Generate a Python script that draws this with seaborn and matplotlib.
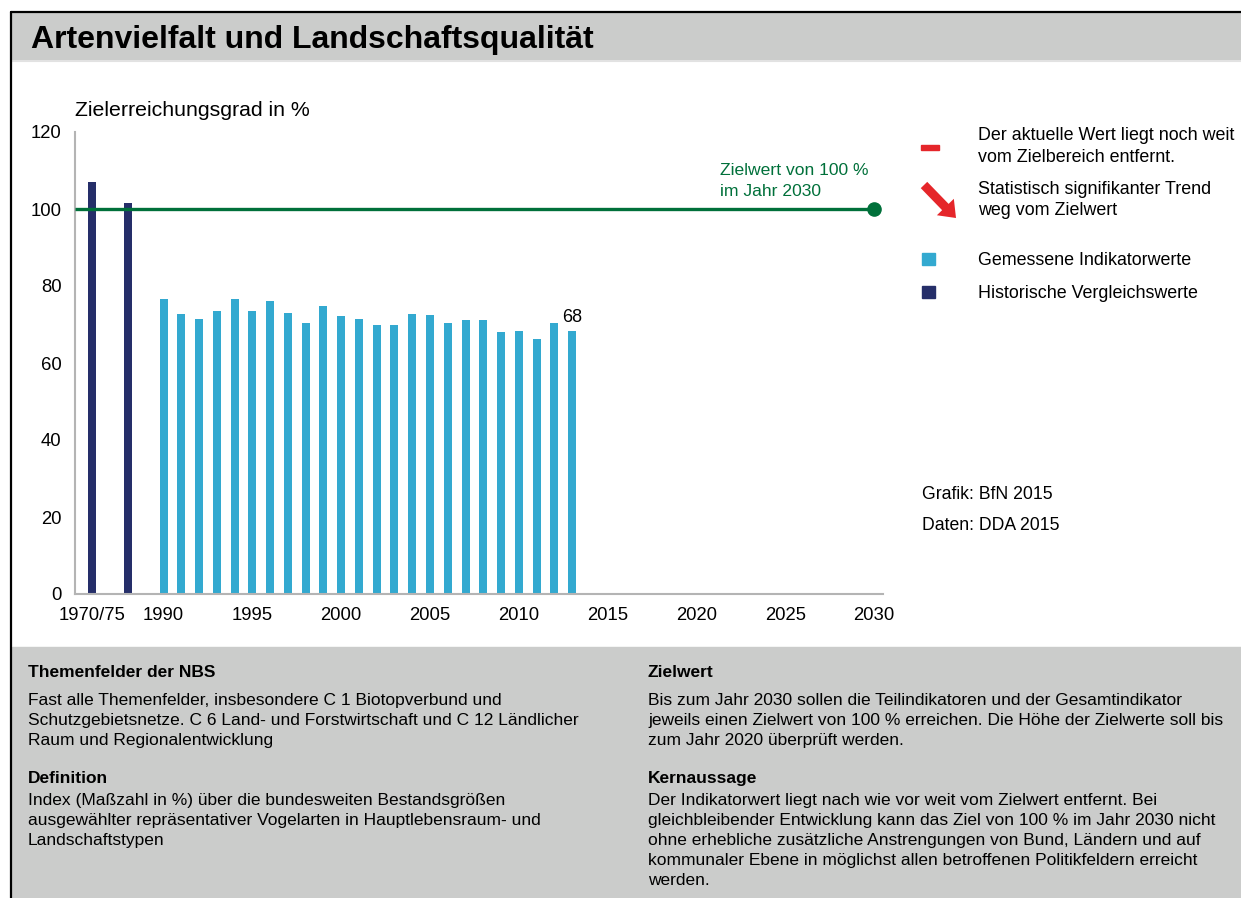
import numpy as np
import pandas as pd
import matplotlib
matplotlib.use("Agg")
import matplotlib.pyplot as plt
import seaborn as sns
from matplotlib.patches import Rectangle
from matplotlib.lines import Line2D

# -----------------------------------
# Data
# -----------------------------------

hist_labels = ["1970", "1975"]
hist_values = [107.0, 101.5]

years = list(range(1990, 2014))
values = [76.6, 72.6, 71.5, 73.4, 76.7, 73.4, 76.1, 73.1, 70.4, 74.9,
          72.1, 71.3, 69.9, 70.0, 72.7, 72.4, 70.4, 71.1, 71.1, 68.0,
          68.4, 66.2, 70.4, 68.4]

target_value = 100
target_year = 2030

year_ticks = [1990, 1995, 2000, 2005, 2010, 2015, 2020, 2025, 2030]
y_ticks = [0, 20, 40, 60, 80, 100, 120]

# slots on the time axis used for the two historical bars
hist_slots = [1986, 1988]

LIGHT = "#33a9d0"
DARK = "#252e69"
GREEN = "#00703a"
RED = "#e5262a"
GREY_BG = "#cbcccb"
AXIS = "#b4b4b4"

# -----------------------------------
# Figure setup
# -----------------------------------

sns.set_style("white")
plt.rcParams["font.family"] = ["Liberation Sans", "DejaVu Sans"]
plt.rcParams["text.color"] = "black"
plt.rcParams["xtick.color"] = "black"
plt.rcParams["ytick.color"] = "black"

W, H = 1241, 898
fig = plt.figure(figsize=(W / 100, H / 100), dpi=100)


def fx(x):
    return x / W


def fy(y):
    return 1 - y / H


# header banner, bottom panel and frame lines
fig.add_artist(Rectangle((fx(12), fy(60)), 1 - fx(12), (60 - 13) / H,
                         transform=fig.transFigure, color=GREY_BG, zorder=0))
fig.add_artist(Line2D([fx(12), 1], [fy(60.5), fy(60.5)], color="#e2e2e2",
                      lw=1.5, transform=fig.transFigure))
fig.add_artist(Rectangle((fx(12), 0), 1 - fx(12), (898 - 647) / H,
                         transform=fig.transFigure, color=GREY_BG, zorder=0))
fig.add_artist(Line2D([fx(11), 1], [fy(12), fy(12)], color="black",
                      lw=1.6, transform=fig.transFigure))
fig.add_artist(Line2D([fx(11), fx(11)], [fy(12), 0], color="black",
                      lw=1.6, transform=fig.transFigure))

fig.text(fx(31), fy(48), "Artenvielfalt und Landschaftsqualität",
         fontsize=23, fontweight="bold", va="baseline", ha="left")

# -----------------------------------
# Bar chart
# -----------------------------------

ax = fig.add_axes([fx(74.7), fy(594), (883 - 74.7) / W, (594 - 132) / H])
ax.set_facecolor("none")

df = pd.DataFrame({
    "pos": hist_slots + years,
    "value": hist_values + values,
    "kind": ["hist"] * len(hist_values) + ["measured"] * len(values),
})

sns.barplot(data=df, x="pos", y="value", hue="kind", native_scale=True,
            dodge=False, width=0.45, errorbar=None, legend=False,
            palette={"hist": DARK, "measured": LIGHT}, saturation=1,
            ax=ax, linewidth=0, zorder=2)

ax.plot([1985, target_year], [target_value, target_value], color=GREEN,
        lw=2.4, zorder=5, solid_capstyle="butt")
ax.plot([target_year], [target_value], "o", ms=9.5, color=GREEN, zorder=6,
        clip_on=False)

ax.text(years[-1], values[-1] + 1.2, f"{round(values[-1])}", ha="center",
        va="bottom", fontsize=13)

ax.set_xlim(1985, 2030.5)
ax.set_ylim(0, 120)
ax.set_xlabel("")
ax.set_ylabel("")

ax.set_yticks(y_ticks)
ax.set_xticks([1986.0] + year_ticks)
ax.set_xticklabels(["/".join([hist_labels[0], hist_labels[1][2:]])] +
                   [str(y) for y in year_ticks])
ax.set_xticks(np.arange(1985.5, 2031, 1), minor=True)

ax.tick_params(axis="y", length=6.5, width=1.2, color=AXIS, labelsize=13.3,
               pad=3, labelcolor="black")
ax.tick_params(axis="x", which="major", length=0, pad=9, labelsize=13.3,
               labelcolor="black")
ax.tick_params(axis="x", which="minor", length=6, width=1.2, color=AXIS)

for side in ["top", "right"]:
    ax.spines[side].set_visible(False)
for side in ["left", "bottom"]:
    ax.spines[side].set_color(AXIS)
    ax.spines[side].set_linewidth(1.5)

fig.text(fx(75), fy(116), "Zielerreichungsgrad in %", fontsize=15.3,
         va="baseline")

fig.text(fx(720), fy(175), "Zielwert von 100 %", color=GREEN, fontsize=12.6,
         va="baseline")
fig.text(fx(720), fy(196), "im Jahr 2030", color=GREEN, fontsize=12.6,
         va="baseline")

# -----------------------------------
# Legend (right side)
# -----------------------------------

fig.add_artist(Rectangle((fx(921), fy(149.5)), (939 - 921) / W, 5 / H,
                         transform=fig.transFigure, color=RED))
ax.annotate("", xy=(fx(956), fy(218)), xytext=(fx(924), fy(185)),
            xycoords="figure fraction", textcoords="figure fraction",
            arrowprops=dict(facecolor=RED, edgecolor="none", width=6.5,
                            headwidth=17, headlength=11))
fig.add_artist(Rectangle((fx(922), fy(265)), 13 / W, 12 / H,
                         transform=fig.transFigure, color=LIGHT))
fig.add_artist(Rectangle((fx(922), fy(298)), 13 / W, 12 / H,
                         transform=fig.transFigure, color=DARK))

legend_lines = [
    (140, "Der aktuelle Wert liegt noch weit"),
    (162, "vom Zielbereich entfernt."),
    (194, "Statistisch signifikanter Trend"),
    (215, "weg vom Zielwert"),
    (265, "Gemessene Indikatorwerte"),
    (298, "Historische Vergleichswerte"),
]
for yy, txt in legend_lines:
    fig.text(fx(978), fy(yy), txt, fontsize=12.9, va="baseline")

fig.text(fx(922), fy(499), "Grafik: BfN 2015", fontsize=12.7, va="baseline")
fig.text(fx(922), fy(530), "Daten: DDA 2015", fontsize=12.7, va="baseline")

# -----------------------------------
# Bottom text panel
# -----------------------------------

left_block = [
    (677, "Themenfelder der NBS", True),
    (705, "Fast alle Themenfelder, insbesondere C 1 Biotopverbund und", False),
    (725, "Schutzgebietsnetze. C 6 Land- und Forstwirtschaft und C 12 Ländlicher", False),
    (745, "Raum und Regionalentwicklung", False),
    (783, "Definition", True),
    (805, "Index (Maßzahl in %) über die bundesweiten Bestandsgrößen", False),
    (825, "ausgewählter repräsentativer Vogelarten in Hauptlebensraum- und", False),
    (845, "Landschaftstypen", False),
]
right_block = [
    (677, "Zielwert", True),
    (705, "Bis zum Jahr 2030 sollen die Teilindikatoren und der Gesamtindikator", False),
    (725, "jeweils einen Zielwert von 100 % erreichen. Die Höhe der Zielwerte soll bis", False),
    (745, "zum Jahr 2020 überprüft werden.", False),
    (783, "Kernaussage", True),
    (805, "Der Indikatorwert liegt nach wie vor weit vom Zielwert entfernt. Bei", False),
    (825, "gleichbleibender Entwicklung kann das Ziel von 100 % im Jahr 2030 nicht", False),
    (845, "ohne erhebliche zusätzliche Anstrengungen von Bund, Ländern und auf", False),
    (865, "kommunaler Ebene in möglichst allen betroffenen Politikfeldern erreicht", False),
    (885, "werden.", False),
]
for x0, block in [(28, left_block), (648, right_block)]:
    for yy, txt, bold in block:
        fig.text(fx(x0), fy(yy), txt, fontsize=12.5, va="baseline",
                 fontweight="bold" if bold else "normal")

plt.savefig("out.png", dpi=100)
plt.close()
